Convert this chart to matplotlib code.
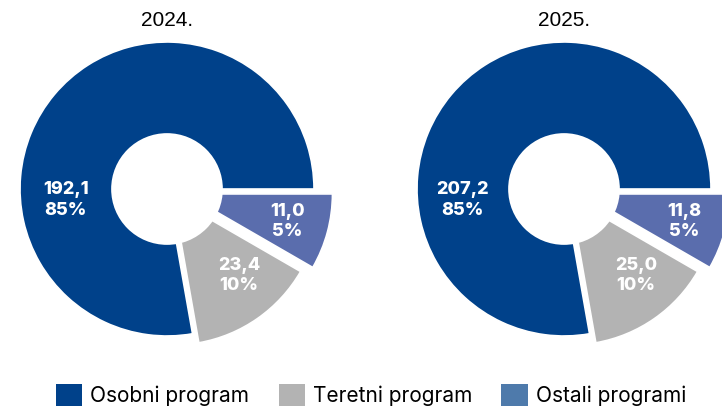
import numpy as np
import matplotlib.pyplot as plt
from matplotlib.patches import Patch, Circle

# podaci
godine = ['2024.', '2025.']
kategorije = ['Osobni program', 'Teretni program', 'Ostali programi']
vrijednosti = [[192.1, 23.4, 11.0],
               [207.2, 25.0, 11.8]]
postoci = [[85, 10, 5],
           [85, 10, 5]]
# udjeli kruga kako su nacrtani na slici (kutovi odsjecaka)
udjeli = [[280, 50, 30],
          [280, 50, 30]]

boje = ['#00418A', '#B3B3B3', '#5A6DAD']
boje_leg = ['#00418A', '#B3B3B3', '#4E7AAB']

fig = plt.figure(figsize=(7.22, 4.08), dpi=100)

centri = [(167, 189), (564, 189)]
R = 147
# pozicije oznaka u jedinicama radijusa
lab_pos = [(-0.69, -0.075), (0.49, -0.59), (0.82, -0.22)]

for i, (cx, cy) in enumerate(centri):
    ax = fig.add_axes([(cx - R) / 722, (408 - cy - R) / 408, 2 * R / 722, 2 * R / 408])
    ax.pie(udjeli[i], colors=boje, startangle=0, counterclock=True,
           explode=[0, 0.075, 0.13], radius=1,
           wedgeprops=dict(edgecolor='white', linewidth=1.2))
    ax.add_patch(Circle((0, 0), 0.38, facecolor='white', edgecolor='none', zorder=3))
    ax.set_xlim(-1, 1)
    ax.set_ylim(-1, 1)
    ax.set_aspect('equal')
    ax.axis('off')
    for j in range(3):
        x, y = lab_pos[j]
        txt = f"{vrijednosti[i][j]:.1f}".replace('.', ',') + f"\n{postoci[i][j]}%"
        ax.text(x, y, txt, ha='center', va='center', color='white', zorder=4,
                fontsize=13, fontweight='heavy', family='Inter', linespacing=1.25)
    fig.text(cx / 722, 1 - 20 / 408, godine[i], ha='center', va='center',
             fontsize=15, family='Liberation Sans')

handles = [Patch(facecolor=b, edgecolor='none') for b in boje_leg]
fig.legend(handles, kategorije, loc='center left', bbox_to_anchor=(56 / 722, 1 - 395 / 408),
           ncol=3, frameon=False, handlelength=1.25, handleheight=1.25,
           columnspacing=1.4, handletextpad=0.4, borderpad=0, borderaxespad=0,
           prop={'family': 'Inter', 'size': 15})

plt.savefig('out.png', dpi=100)
